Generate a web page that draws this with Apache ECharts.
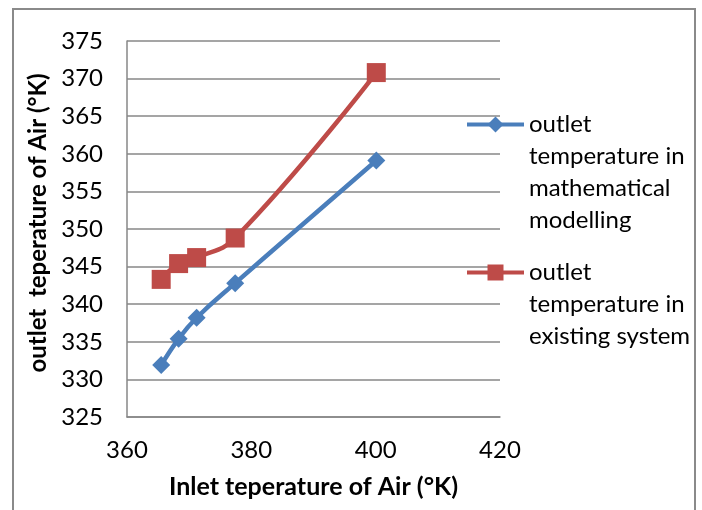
<!DOCTYPE html>
<html>
<head>
<meta charset="utf-8">
<script src="https://cdn.jsdelivr.net/npm/echarts@6/dist/echarts.min.js"></script>
<style>
    html, body { margin: 0; padding: 0; background: #fff; }
    #chart { width: 702px; height: 510px; }
    /* outer frame of the chart area */
    #frame {
        position: absolute; left: 12px; top: 8px;
        width: 680px; height: 520px;
        border: 2px solid #8a8a8a; border-bottom: none;
        pointer-events: none;
    }
</style>
</head>
<body>
<div id="chart"></div>
<div id="frame"></div>
<script>
// inlet air temperature (°K)
const inletTemp = [365.5, 368.3, 371.2, 377.4, 400.1];
// outlet temperature, mathematical modelling
const modelOutlet = [331.9, 335.4, 338.2, 342.8, 359.1];
// outlet temperature, existing system
const existingOutlet = [343.3, 345.4, 346.2, 348.8, 370.8];

const modelName = 'outlet\ntemperature in\nmathematical\nmodelling';
const existingName = 'outlet\ntemperature in\nexisting system';

const font = 'Lato, "Open Sans", sans-serif';
const lineH = 32;

function pairs(xs, ys) {
    return xs.map((x, i) => [x, ys[i]]);
}

function legendFor(name, top) {
    let lines = name.split('\n');
    return {
        data: [name],
        orient: 'vertical',
        left: 465,
        top: top,
        padding: 0,
        itemWidth: 57,
        itemHeight: 20,
        itemGap: 0,
        selectedMode: false,
        lineStyle: { width: 4 },
        // blank spacer on top so the icon sits beside the first line
        formatter: () => '{sp| }\n' + lines.map(l => '{t|' + l + '}').join('\n'),
        textStyle: {
            rich: {
                sp: { fontSize: 1, lineHeight: (lines.length - 1) * lineH },
                t: { fontFamily: font, fontSize: 24, lineHeight: lineH, color: '#000' }
            }
        }
    };
}

let chart = echarts.init(document.getElementById('chart'));
chart.setOption({
    animation: false,
    grid: {
        left: 127,
        right: 202,
        top: 41,
        bottom: 93,
        containLabel: false,
        outerBoundsMode: 'none'
    },
    legend: [
        legendFor(modelName, 60),
        legendFor(existingName, 224)
    ],
    xAxis: {
        type: 'value',
        min: 360,
        max: 420,
        interval: 20,
        name: 'Inlet teperature of Air (°K)',
        nameLocation: 'middle',
        nameGap: 57,
        nameTextStyle: { fontFamily: font, fontSize: 25, fontWeight: 'bold', color: '#000' },
        axisLine: { lineStyle: { color: '#878787', width: 1.5 } },
        axisTick: { show: false },
        splitLine: { show: false },
        axisLabel: { fontFamily: font, fontSize: 24, color: '#000', margin: 21 }
    },
    yAxis: {
        type: 'value',
        min: 325,
        max: 375,
        interval: 5,
        name: 'outlet  teperature of Air (°K)',
        nameLocation: 'middle',
        nameGap: 76,
        nameTextStyle: {
            fontFamily: font, fontSize: 24, fontWeight: 'bold', color: '#000',
            padding: [0, 0, 0, 12]
        },
        axisLine: { show: true, lineStyle: { color: '#878787', width: 1.5 } },
        axisTick: { show: false },
        splitLine: { lineStyle: { color: '#878787', width: 1.5 } },
        axisLabel: { fontFamily: font, fontSize: 24, color: '#000', margin: 24 }
    },
    series: [
        {
            name: modelName,
            type: 'line',
            smooth: 0.45,
            symbol: 'diamond',
            symbolSize: 18,
            color: '#4a7ebb',
            lineStyle: { width: 4.5 },
            data: pairs(inletTemp, modelOutlet)
        },
        {
            name: existingName,
            type: 'line',
            smooth: 0.45,
            symbol: 'rect',
            symbolSize: 19,
            color: '#be4b48',
            lineStyle: { width: 4.5 },
            data: pairs(inletTemp, existingOutlet)
        }
    ]
});
</script>
</body>
</html>
